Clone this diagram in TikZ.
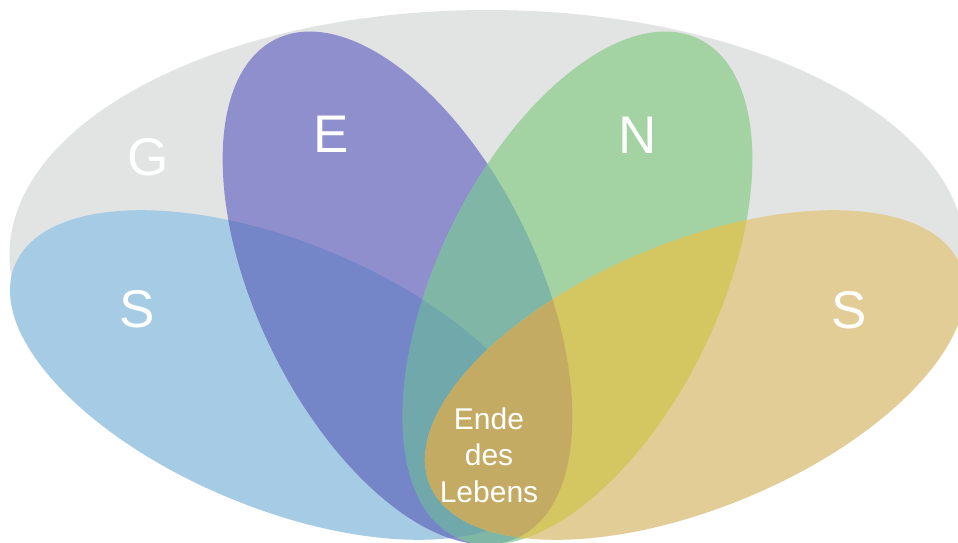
\documentclass[tikz,border=0pt]{standalone}
\usepackage{fontspec}
\setmainfont{Liberation Sans}
\definecolor{cgrey}{RGB}{226,227,227}
\definecolor{cblue}{RGB}{166,203,228}
\definecolor{cpurple}{RGB}{142,143,204}
\definecolor{cgreen}{RGB}{163,210,163}
\definecolor{corange}{RGB}{226,205,150}
\definecolor{cdblue}{RGB}{116,134,200}
\definecolor{cteal}{RGB}{128,182,166}
\definecolor{cdteal}{RGB}{112,168,172}
\definecolor{cyellow}{RGB}{212,199,98}
\definecolor{cochre}{RGB}{196,171,100}
\newcommand\BlueE{(280,375) ellipse [x radius=287, y radius=133]}
\newcommand\PurpleE{(397.5,288) ellipse [x radius=140, y radius=277]}
\newcommand\GreenE{(577.5,288) ellipse [x radius=140, y radius=277]}
\newcommand\OrangeE{(695,375) ellipse [x radius=287, y radius=133]}
\begin{document}
\begin{tikzpicture}[x=1pt,y=-1pt,
  bluepos/.style={rotate around={-22.5:(280,375)}},
  purplepos/.style={rotate around={26:(397.5,288)}},
  greenpos/.style={rotate around={-26:(577.5,288)}},
  orangepos/.style={rotate around={22.5:(695,375)}},
  biglabel/.style={text=white, anchor=base, inner sep=0pt, font=\fontsize{53}{60}\selectfont},
  smalllabel/.style={text=white, align=center, inner sep=0pt, font=\fontsize{30}{36.5}\selectfont}]
\useasboundingbox (0,0) rectangle (958,542);
\fill[white] (0,0) rectangle (958,542);
% grey background ellipse
\fill[cgrey] (487.5,255) ellipse [x radius=478, y radius=245];
% petals
\fill[cblue, bluepos] \BlueE;
\fill[cpurple, purplepos] \PurpleE;
\fill[cgreen, greenpos] \GreenE;
\fill[corange, orangepos] \OrangeE;
% blue & purple
\begin{scope}
  \clip[bluepos] \BlueE;
  \fill[cdblue, purplepos] \PurpleE;
\end{scope}
% purple & green
\begin{scope}
  \clip[purplepos] \PurpleE;
  \fill[cteal, greenpos] \GreenE;
\end{scope}
% blue & purple & green
\begin{scope}
  \clip[bluepos] \BlueE;
  \clip[purplepos] \PurpleE;
  \fill[cdteal, greenpos] \GreenE;
\end{scope}
% green & orange
\begin{scope}
  \clip[greenpos] \GreenE;
  \fill[cyellow, orangepos] \OrangeE;
\end{scope}
% purple & green & orange
\begin{scope}
  \clip[purplepos] \PurpleE;
  \clip[greenpos] \GreenE;
  \fill[cochre, orangepos] \OrangeE;
\end{scope}
% labels
\node[biglabel] (g) at (148,175) {G};
\node[biglabel] (e) at (331,152) {E};
\node[biglabel] (n) at (638,153) {N};
\node[biglabel] (s1) at (137,327) {S};
\node[biglabel] (s2) at (849,328) {S};
\node[smalllabel] (end) at (489,455) {Ende\\des\\Lebens};
\end{tikzpicture}
\end{document}
